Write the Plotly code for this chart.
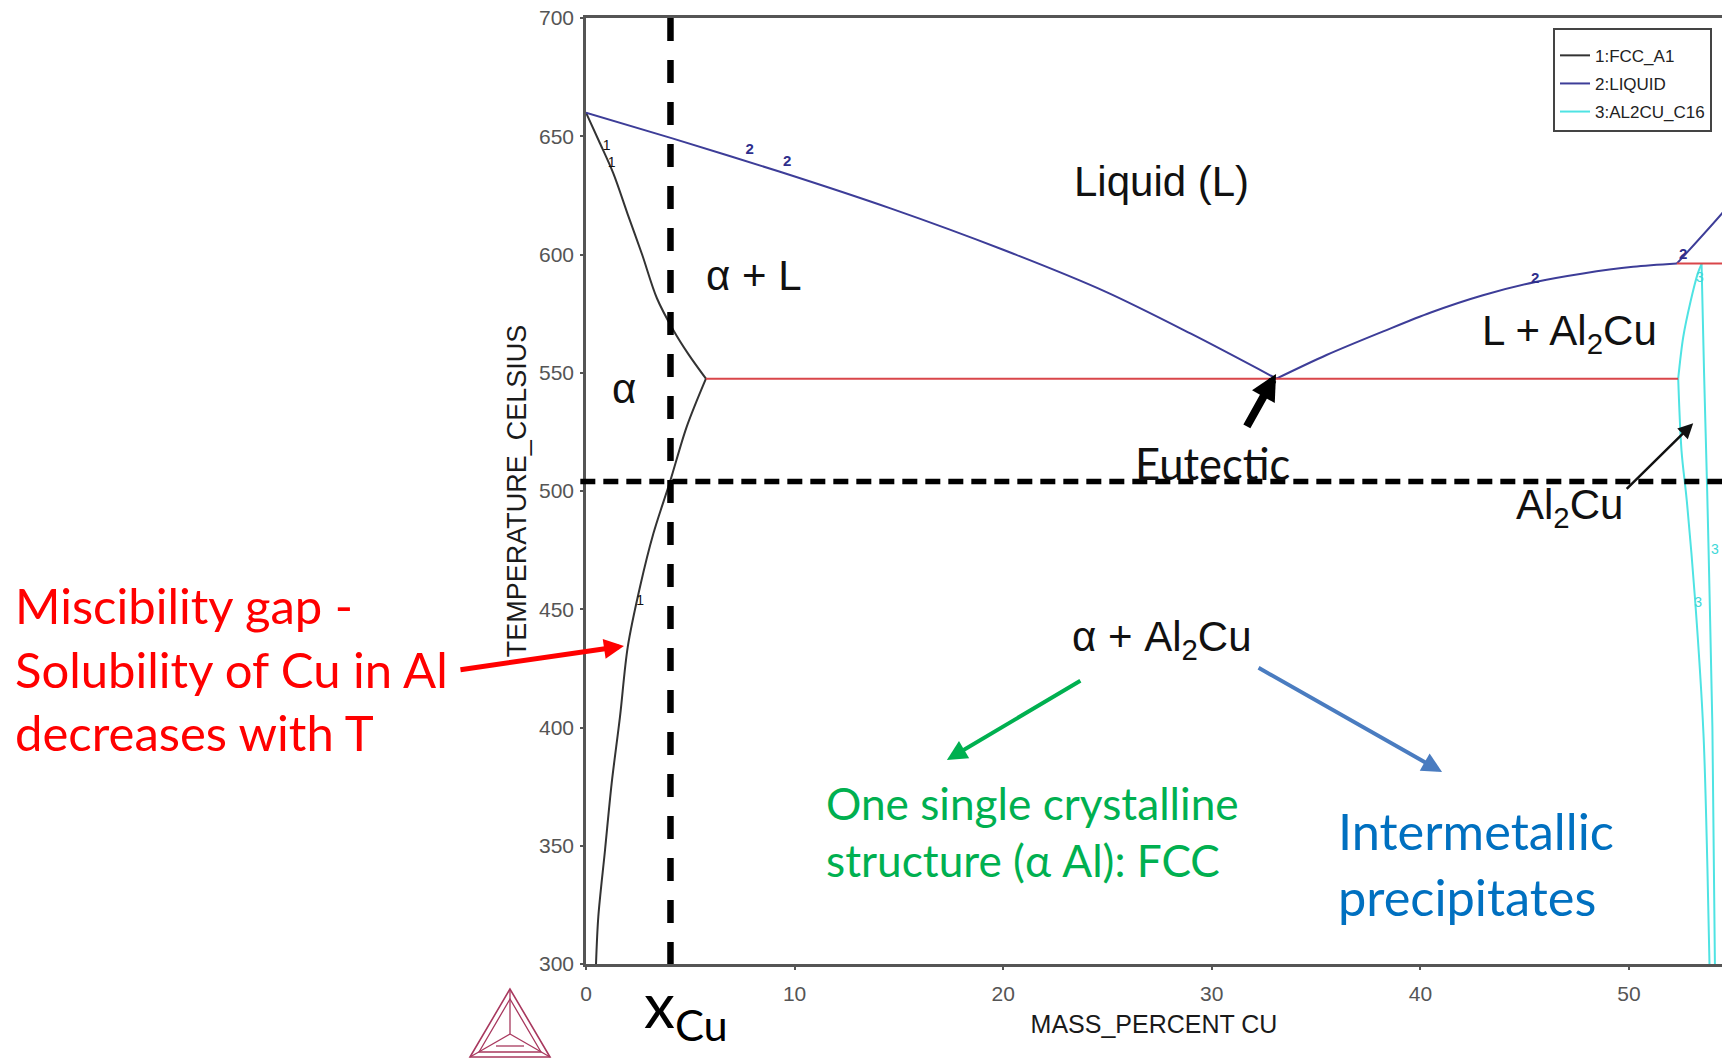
import plotly.graph_objects as go

# ---------------- data ----------------
# 1: FCC_A1 boundary - solvus (300 C -> eutectic) and solidus (eutectic -> Al melting point)
solvus_mass_cu = [0.48, 0.59, 0.91, 1.23, 1.63, 2.0, 2.59, 3.23, 4.03, 4.83, 5.75]
solvus_temp = [300, 320, 348, 376.4, 404.6, 434, 459.5, 482, 504, 527.2, 547.5]
solidus_mass_cu = [5.75, 4.9, 4.19, 3.4, 2.69, 2.0, 1.31, 0.62, 0.0]
solidus_temp = [547.5, 558, 568, 581.5, 600, 617, 634.3, 648, 660]

# 2: LIQUID - liquidus branches
liq_al_mass_cu = [0.0, 4.1, 9.3, 14.6, 20.0, 24.9, 29.0, 33.1]
liq_al_temp = [660, 649.2, 635, 619.5, 602, 584.3, 566.5, 547.5]
liq_theta_mass_cu = [33.1, 35.5, 38.22, 40.5, 43.0, 45.57, 47.8, 50.2, 52.3]
liq_theta_temp = [547.5, 557.5, 567.5, 575.5, 582.8, 588.5, 592.0, 594.8, 596.2]
liq_high_mass_cu = [52.3, 52.6, 54.46, 55.0]
liq_high_temp = [596.2, 599.1, 617.4, 623.3]

# 3: AL2CU_C16 phase boundaries
theta_low_mass_cu = [53.86, 53.76, 53.57, 53.17, 52.77, 52.52, 52.36]
theta_low_temp = [300, 341, 397.6, 454, 496, 517, 547.5]
theta_mid_mass_cu = [52.36, 52.6, 52.95, 53.3, 53.48]
theta_mid_temp = [547.5, 565, 580, 592, 596]
theta_right_mass_cu = [53.48, 53.6, 53.75, 53.88, 54.0, 54.12]
theta_right_temp = [596, 550, 500, 450, 400, 300]

# invariant (three-phase) isotherms
invariant_mass_cu = [5.75, 52.36, None, 52.3, 55.0]
invariant_temp = [547.5, 547.5, None, 596.2, 596.2]

# curve number labels
label1_x = [0.99, 1.23, 2.59]
label1_t = [645.6, 638.6, 453.2]
label2_x = [7.85, 9.65, 45.5, 52.6]
label2_t = [644.2, 639.2, 589.5, 599.8]
label3_x = [53.4, 53.32, 54.12]
label3_t = [590, 452.5, 475]

# reference composition / temperature markers
x_cu_marker = 4.05
t_marker = 504

x_ticks = [0, 10, 20, 30, 40, 50]
y_ticks = [300, 350, 400, 450, 500, 550, 600, 650, 700]
x_range = [0, 54.46]
y_range = [300, 700]

# ---------------- figure ----------------
fig = go.Figure()

FCC_COL, LIQ_COL, TH_COL = "#333333", "#3d3d98", "#4fe3e3"


def curve(x, y, name, color, show):
    fig.add_trace(go.Scatter(x=x, y=y, mode="lines", name=name, legendgroup=name,
                             showlegend=show,
                             line=dict(color=color, width=2, shape="spline", smoothing=0.9)))


curve(solvus_mass_cu, solvus_temp, "1:FCC_A1", FCC_COL, True)
curve(solidus_mass_cu, solidus_temp, "1:FCC_A1", FCC_COL, False)
curve(liq_al_mass_cu, liq_al_temp, "2:LIQUID", LIQ_COL, True)
curve(liq_theta_mass_cu, liq_theta_temp, "2:LIQUID", LIQ_COL, False)
curve(liq_high_mass_cu, liq_high_temp, "2:LIQUID", LIQ_COL, False)
curve(theta_low_mass_cu, theta_low_temp, "3:AL2CU_C16", TH_COL, True)
curve(theta_mid_mass_cu, theta_mid_temp, "3:AL2CU_C16", TH_COL, False)
curve(theta_right_mass_cu, theta_right_temp, "3:AL2CU_C16", TH_COL, False)

fig.add_trace(go.Scatter(x=invariant_mass_cu, y=invariant_temp, mode="lines",
                         showlegend=False, line=dict(color="#d9464a", width=2)))

fig.add_trace(go.Scatter(x=label1_x, y=label1_t, mode="text", text=["1"] * len(label1_x),
                         showlegend=False,
                         textfont=dict(family="Liberation Sans", size=14, color="#111")))
fig.add_trace(go.Scatter(x=label2_x, y=label2_t, mode="text", text=["<b>2</b>"] * len(label2_x),
                         showlegend=False,
                         textfont=dict(family="Liberation Sans", size=15, color="#2e2e8c")))
fig.add_trace(go.Scatter(x=label3_x, y=label3_t, mode="text", text=["3"] * len(label3_x),
                         showlegend=False,
                         textfont=dict(family="Liberation Sans", size=14, color="#40d8d8")))

# dashed marker lines
fig.add_shape(type="line", xref="x", yref="y", x0=x_cu_marker, x1=x_cu_marker,
              y0=y_range[1], y1=y_range[0],
              line=dict(color="black", width=6.5, dash="23px,19px"))
fig.add_shape(type="line", xref="paper", yref="y", x0=-0.005, x1=1, y0=t_marker, y1=t_marker,
              line=dict(color="black", width=5.5, dash="15px,8px"))

# Thermo-Calc style logo (decoration, below the plot)
PLOT_L, PLOT_T, PLOT_W, PLOT_H = 586, 18, 1136, 946


def pp(px, py):
    return ((px - PLOT_L) / PLOT_W, (PLOT_T + PLOT_H - py) / PLOT_H)


def path(pts, close=True):
    s = ""
    for i, (a, b) in enumerate(pts):
        xx, yy = pp(a, b)
        s += ("M" if i == 0 else "L") + f"{xx:.5f},{yy:.5f} "
    return s + ("Z" if close else "")


A, B, C, G = (510, 989), (470, 1057), (550, 1057), (510, 1034)
inner = [(510, 999), (479, 1052), (541, 1052)]
logo_col = "#a8385e"
fig.add_shape(type="path", xref="paper", yref="paper", path=path([A, B, C]),
              line=dict(color=logo_col, width=1.6))
fig.add_shape(type="path", xref="paper", yref="paper", path=path(inner),
              line=dict(color=logo_col, width=1.3))
for v in (A, B, C):
    fig.add_shape(type="path", xref="paper", yref="paper", path=path([G, v], close=False),
                  line=dict(color=logo_col, width=1.3))
fig.add_shape(type="path", xref="paper", yref="paper",
              path=path([(496, 1046), (524, 1046)], close=False),
              line=dict(color=logo_col, width=1.3))

# phase-field labels
phase_font = dict(family="Liberation Sans", size=42, color="#111")
for txt, xx, yy in [("Liquid (L)", 27.6, 631.0),
                    ("\u03b1 + L", 8.03, 591.0),
                    ("\u03b1", 1.8, 543.5),
                    ("L + Al<sub>2</sub>Cu", 47.17, 566.5),
                    ("Al<sub>2</sub>Cu", 47.17, 493.0),
                    ("\u03b1 + Al<sub>2</sub>Cu", 27.6, 437.4)]:
    fig.add_annotation(x=xx, y=yy, xref="x", yref="y", text=txt, showarrow=False,
                       font=phase_font, xanchor="center", yanchor="middle")

cal = "Lato"
fig.add_annotation(x=30.03, y=511.8, xref="x", yref="y", text="Eutectic", showarrow=False,
                   xanchor="center", yanchor="middle",
                   font=dict(family=cal, size=43.5, color="#111"))

fig.add_annotation(x=pp(13, 0)[0], y=pp(0, 668)[1], xref="paper", yref="paper",
                   text="Miscibility gap -<br>Solubility of Cu in Al<br>decreases with T",
                   showarrow=False, align="left", xanchor="left", yanchor="middle",
                   font=dict(family=cal, size=49, color="#ff0000"))
fig.add_annotation(x=pp(824, 0)[0], y=pp(0, 831)[1], xref="paper", yref="paper",
                   text="One single crystalline<br>structure (\u03b1 Al): FCC",
                   showarrow=False, align="left", xanchor="left", yanchor="middle",
                   font=dict(family=cal, size=44.2, color="#00b050"))
fig.add_annotation(x=pp(1336, 0)[0], y=pp(0, 863)[1], xref="paper", yref="paper",
                   text="Intermetallic<br>precipitates",
                   showarrow=False, align="left", xanchor="left", yanchor="middle",
                   font=dict(family=cal, size=50.5, color="#0070c0"))
fig.add_annotation(x=pp(686, 0)[0], y=pp(0, 1008)[1], xref="paper", yref="paper",
                   text="x<sub>Cu</sub>", showarrow=False, xanchor="center", yanchor="middle",
                   font=dict(family=cal, size=62, color="#000"))


# arrows
def arrow(x, y, ax, ay, color, width, size, head=2):
    fig.add_annotation(x=x, y=y, xref="x", yref="y", ax=ax, ay=ay, axref="pixel", ayref="pixel",
                       text="", showarrow=True, arrowhead=head, arrowsize=size,
                       arrowwidth=width, arrowcolor=color, standoff=0)


arrow(1.82, 434.5, -165, 24, "#ff0000", 5, 0.8)
arrow(33.08, 549.5, -30, 54, "#000000", 8, 0.65)
arrow(53.08, 528.6, -68, 67, "#111111", 2.5, 1.2)
arrow(17.3, 386.3, 135, -80, "#00b050", 4, 1.0)
arrow(41.04, 381.2, -185, -105, "#4a7cc0", 4, 1.0)

axis_font = dict(family="Liberation Sans", size=21, color="#555")
fig.update_layout(
    width=1722, height=1059,
    margin=dict(l=586, r=0, t=18, b=95),
    paper_bgcolor="white", plot_bgcolor="white",
    showlegend=True,
    legend=dict(x=(1553 - 586) / 1136, y=(964 - 28) / 946, xanchor="left", yanchor="top",
                bordercolor="#444", borderwidth=2, bgcolor="white",
                font=dict(family="Liberation Sans", size=17, color="#222"),
                itemwidth=30, tracegroupgap=3, title=dict(text=" ", font=dict(size=6))),
    xaxis=dict(range=x_range, tickvals=x_ticks, showline=True, linecolor="#555", linewidth=2.5,
               mirror=True, ticks="outside", ticklen=3, tickcolor="#555", tickwidth=2,
               showgrid=False, zeroline=False, tickfont=axis_font, ticklabelstandoff=6,
               title=dict(text="MASS_PERCENT CU", standoff=12,
                          font=dict(family="Liberation Sans", size=25, color="#1a1a1a"))),
    yaxis=dict(range=y_range, tickvals=y_ticks, showline=True, linecolor="#555", linewidth=2.5,
               mirror=False, ticks="outside", ticklen=3, tickcolor="#555", tickwidth=2,
               showgrid=False, zeroline=False, tickfont=axis_font, ticklabelstandoff=2,
               title=dict(text="TEMPERATURE_CELSIUS", standoff=5,
                          font=dict(family="Liberation Sans", size=27, color="#1a1a1a"))),
)

fig.write_html("out.html", config={"displayModeBar": False},
               post_script="document.body.style.margin='0';document.body.style.overflow='hidden';")
